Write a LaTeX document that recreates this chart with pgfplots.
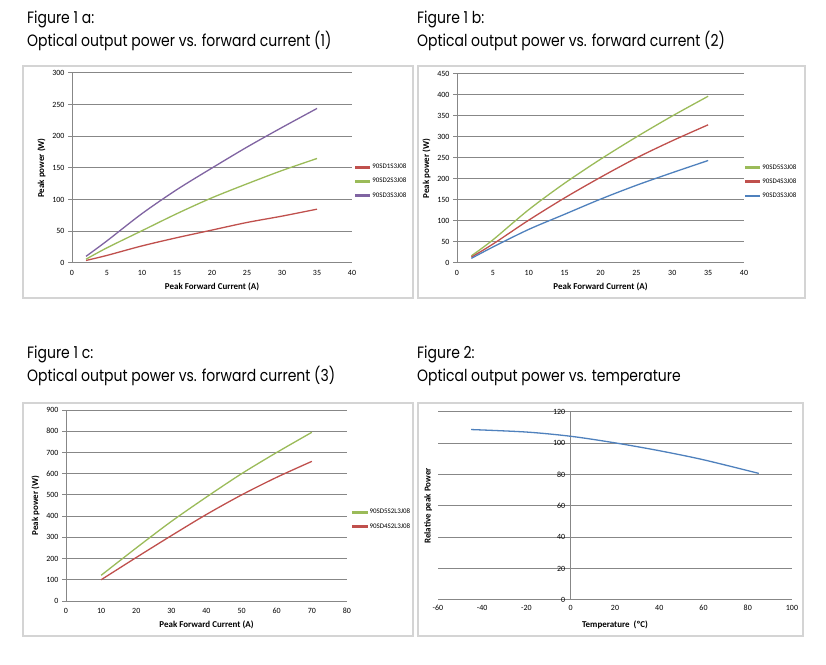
\documentclass[border=0pt]{standalone}
\usepackage{fontspec}
\usepackage{pgfplots}
\pgfplotsset{compat=1.18}
\setmainfont{Carlito}
\newfontfamily\titlefont{Poppins}

\definecolor{xred}{HTML}{C0504D}
\definecolor{xgreen}{HTML}{9BBB59}
\definecolor{xpurple}{HTML}{8064A2}
\definecolor{xblue}{HTML}{4F81BD}
\definecolor{gridgray}{HTML}{878787}
\definecolor{framegray}{HTML}{D4D4D4}

\pgfplotsset{
  ln/.style={line width=1.3bp, smooth, mark=none},
  excel/.style={
    scale only axis,
    anchor=south west,
    axis lines*=left,
    axis line style={gridgray, line width=1bp},
    ymajorgrids,
    grid style={gridgray, line width=1bp},
    tick align=outside,
    major tick length=4bp,
    x tick style={draw=none},
    y tick style={gridgray, line width=1bp},
    /pgf/number format/assume math mode=true,
    tick label style={font=\fontsize{8}{9}\selectfont},
    label style={font=\bfseries\fontsize{9}{10}\selectfont},
    legend style={font=\fontsize{7}{8}\selectfont, anchor=west, row sep=4bp,
      inner sep=0pt, draw=none, fill=none},
    legend cell align=left,
    legend image code/.code={\fill (0bp,-0.8bp) rectangle (14bp,0.8bp);},
  },
}
\tikzset{ttl/.style={anchor=base west, font=\titlefont\fontsize{16.5}{18}\selectfont, inner sep=0pt, xscale=0.85}}

\begin{document}
\begin{tikzpicture}
\fill[white] (0bp,0bp) rectangle (826bp,665bp);
\path[use as bounding box] (0bp,0bp) rectangle (826bp,665bp);

% panel frames
\draw[framegray, line width=1.5bp] (23bp,367bp) rectangle (413bp,599bp);
\draw[framegray, line width=1.5bp] (418bp,367bp) rectangle (805bp,599bp);
\draw[framegray, line width=1.5bp] (23bp,29bp) rectangle (413bp,262bp);
\draw[framegray, line width=1.5bp] (418bp,29bp) rectangle (803bp,262bp);

% titles
\node[ttl] at (27bp,641bp) {Figure 1 a:};
\node[ttl] at (27bp,618bp) {Optical output power vs. forward current (1)};
\node[ttl] at (417bp,641bp) {Figure 1 b:};
\node[ttl] at (417bp,618bp) {Optical output power vs. forward current (2)};
\node[ttl] at (27bp,306bp) {Figure 1 c:};
\node[ttl] at (27bp,283bp) {Optical output power vs. forward current (3)};
\node[ttl] at (417bp,306bp) {Figure 2:};
\node[ttl] at (417bp,283bp) {Optical output power vs. temperature};

% Figure 1 a
\begin{axis}[excel, at={(72bp,402bp)}, width=280bp, height=190bp,
  xmin=0, xmax=40, xtick={0,5,...,40},
  ymin=0, ymax=300, ytick={0,50,...,300},
  xlabel={Peak Forward Current (A)}, ylabel={Peak power (W)},
  legend style={at={(1.01,0.43)}}]
\addplot[xred, ln] coordinates {(2,4) (5,12) (10,27) (15,40) (20,52) (25,64) (30,74) (35,85)};
\addlegendentry{90SD1S3J08}
\addplot[xgreen, ln] coordinates {(2,6) (5,24) (10,51) (15,78) (20,103) (25,125) (30,146) (35,165)};
\addlegendentry{90SD2S3J08}
\addplot[xpurple, ln] coordinates {(2,10.5) (5,35) (10,78) (15,116) (20,150) (25,183) (30,214) (35,244)};
\addlegendentry{90SD3S3J08}
\end{axis}

% Figure 1 b
\begin{axis}[excel, at={(457bp,402bp)}, width=287bp, height=189bp,
  xmin=0, xmax=40, xtick={0,5,...,40},
  ymin=0, ymax=450, ytick={0,50,...,450},
  xlabel={Peak Forward Current (A)}, ylabel={Peak power (W)},
  legend style={at={(1.003,0.43)}}]
\addplot[xgreen, ln] coordinates {(2,17) (5,55) (10,127) (15,190) (20,247) (25,300) (30,350) (35,397)};
\addlegendentry{90SD5S3J08}
\addplot[xred, ln] coordinates {(2,14) (5,45) (10,102) (15,155) (20,204) (25,250) (30,291) (35,329)};
\addlegendentry{90SD4S3J08}
\addplot[xblue, ln] coordinates {(2,11) (5,38) (10,80) (15,116) (20,152) (25,185) (30,215) (35,244)};
\addlegendentry{90SD3S3J08}
\end{axis}

% Figure 1 c
\begin{axis}[excel, at={(66bp,64bp)}, width=281bp, height=191bp,
  xmin=0, xmax=80, xtick={0,10,...,80},
  ymin=0, ymax=900, ytick={0,100,...,900},
  xlabel={Peak Forward Current (A)}, ylabel={Peak power (W)},
  legend style={at={(1.018,0.427)}}]
\addplot[xgreen, ln] coordinates {(10,121) (20,250) (30,375) (40,490) (50,600) (60,700) (70,795)};
\addlegendentry{90SD5S2L3J08}
\addplot[xred, ln] coordinates {(10,100) (20,205) (30,308) (40,408) (50,500) (60,583) (70,658)};
\addlegendentry{90SD4S2L3J08}
\end{axis}

% Figure 2
\begin{axis}[excel, at={(438bp,65bp)}, width=354bp, height=188bp,
  axis x line=bottom, axis y line=middle,
  axis line style={gridgray, line width=1bp, -},
  hide obscured x ticks=false, hide obscured y ticks=false,
  xmin=-60, xmax=100, xtick={-60,-40,...,100},
  ymin=0, ymax=120, ytick={0,20,...,120},
  xlabel={Temperature\ \ (ºC)},
  ylabel={Relative peak Power},
  every axis y label/.style={at={(rel axis cs:-0.028,0.5)}, rotate=90, anchor=center,
    font=\bfseries\fontsize{9}{10}\selectfont},
  every axis x label/.style={at={(rel axis cs:0.5,0)}, anchor=north, yshift=-17bp,
    font=\bfseries\fontsize{9}{10}\selectfont}]
\addplot[xblue, ln] coordinates {(-45,108.8) (-20,107.2) (0,104.5) (20,100.3) (40,95.3) (60,89.5) (85,80.8)};
\end{axis}
\end{tikzpicture}
\end{document}
